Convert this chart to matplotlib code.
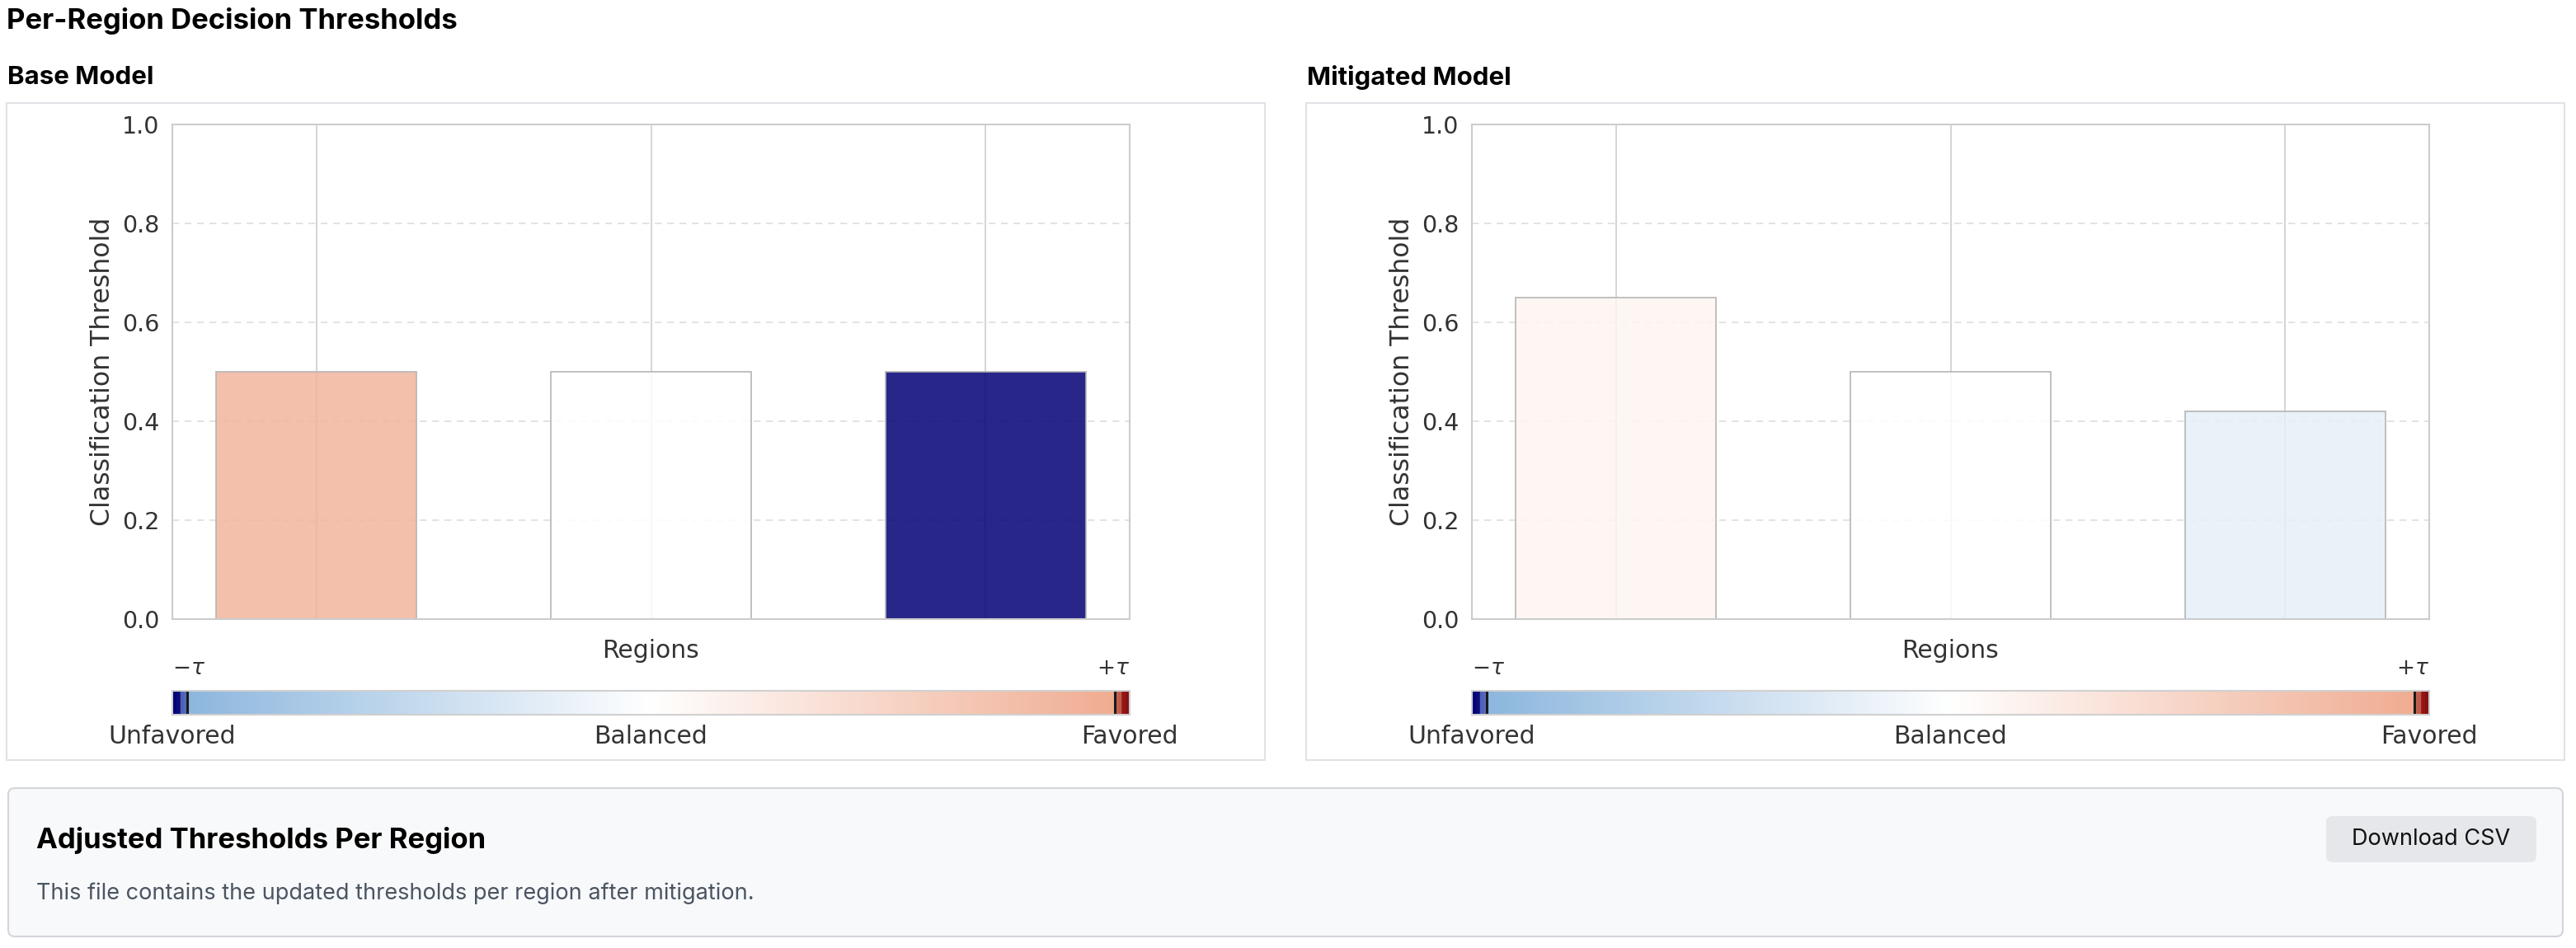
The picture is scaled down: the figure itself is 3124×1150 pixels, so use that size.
import matplotlib
matplotlib.use("Agg")
import numpy as np
import matplotlib.pyplot as plt
from matplotlib.colors import LinearSegmentedColormap, Normalize
from matplotlib.patches import FancyBboxPatch, Rectangle

# canvas in pixels
W, H = 3124, 1150
DPI = 100

# ─── data ─────────────────────────────────────────────────────────────────────
REGIONS = ["Region 1", "Region 2", "Region 3"]
BASE_THRESHOLDS = [0.5, 0.5, 0.5]
MITIGATED_THRESHOLDS = [0.65, 0.5, 0.42]
# disparity score per region, drives the bar colour
BASE_DISPARITY = [0.09, 0.0, -0.30]
MITIGATED_DISPARITY = [0.012, 0.0, -0.022]
TAU = 0.10
CBAR_LIMIT = 0.1032
Y_TICKS = [0.0, 0.2, 0.4, 0.6, 0.8, 1.0]
CBAR_LABELS = ["Unfavored", "Balanced", "Favored"]
# ──────────────────────────────────────────────────────────────────────────────

UI_FONT = ["Inter", "DejaVu Sans"]
TXT = "#333333"

p_lo = (CBAR_LIMIT - TAU) / (2 * CBAR_LIMIT)
p_hi = 1 - p_lo
cmap = LinearSegmentedColormap.from_list("disparity", [
    (0.0, "#030076"), (0.28 * p_lo, "#0a0d7c"), (0.33 * p_lo, "#4a5cb5"),
    (p_lo, "#5a74c0"), (p_lo, "#8db7de"), (0.5, "#ffffff"),
    (p_hi, "#f0ad92"), (p_hi, "#c8705e"), (1 - 0.50 * p_lo, "#c05a4c"),
    (1 - 0.45 * p_lo, "#9b1c1c"), (1.0, "#8a1010"),
])
norm = Normalize(-CBAR_LIMIT, CBAR_LIMIT)


def bar_color(d):
    return cmap(norm(np.clip(d, -CBAR_LIMIT, CBAR_LIMIT)))


def box(x0, y0, x1, y1):
    """pixel box (top-left origin) -> figure fraction rect"""
    return [x0 / W, 1 - y1 / H, (x1 - x0) / W, (y1 - y0) / H]


def fx(px):
    return px / W


def fy(py):
    return 1 - py / H


fig = plt.figure(figsize=(W / DPI, H / DPI), dpi=DPI)
fig.patch.set_facecolor("white")

fig.text(fx(8), fy(26), "Per-Region Decision Thresholds", fontsize=25, fontweight="bold",
         family=UI_FONT, color="#000000", va="center", ha="left")


def panel(x_off, title, values, disparity):
    # card outline (behind the axes)
    fig.patches.append(Rectangle((x_off / DPI, (H - 922) / DPI), 1526 / DPI, 797 / DPI,
                                 transform=fig.dpi_scale_trans, facecolor="white",
                                 edgecolor="#e1e2e7", lw=1.5, zorder=-5))
    fig.text(fx(x_off + 1), fy(94), title, fontsize=22.5, fontweight="bold",
             family=UI_FONT, color="#000000", va="center", ha="left")

    ax = fig.add_axes(box(x_off + 201, 151, x_off + 1362, 751))
    x = np.arange(len(values))
    ax.bar(x, values, width=0.6, color=[bar_color(d) for d in disparity], alpha=0.85,
           edgecolor="#b5b5b5", linewidth=1.4, zorder=2)
    ax.set_ylim(0, 1.0)
    ax.set_yticks(Y_TICKS)
    ax.set_xticks(x)
    ax.set_xticklabels([])
    ax.set_axisbelow(True)
    ax.grid(axis="x", color="#d4d4d4", linewidth=1.4, linestyle="-")
    ax.grid(axis="y", color="#dedede", linewidth=1.2, linestyle=(0, (5, 4)))
    ax.tick_params(axis="both", length=0, labelsize=20.5, labelcolor=TXT, pad=11)
    for s in ax.spines.values():
        s.set_color("#cccccc")
        s.set_linewidth(1.5)
    ax.set_ylabel("Classification Threshold", fontsize=22.7, color=TXT, labelpad=6)
    ax.set_xlabel("Regions", fontsize=21.5, color=TXT, labelpad=6)

    # disparity colour scale under the bars
    cax = fig.add_axes(box(x_off + 201, 838, x_off + 1362, 867))
    grad = np.linspace(-CBAR_LIMIT, CBAR_LIMIT, 1200).reshape(1, -1)
    cax.imshow(grad, cmap=cmap, norm=norm, aspect="auto",
               extent=[-CBAR_LIMIT, CBAR_LIMIT, 0, 1])
    cax.axvline(-TAU, color="#1a1a1a", linewidth=2.2)
    cax.axvline(TAU, color="#1a1a1a", linewidth=2.2)
    cax.set_xlim(-CBAR_LIMIT, CBAR_LIMIT)
    cax.set_xticks([])
    cax.set_yticks([])
    for s in cax.spines.values():
        s.set_color("#d0d0d0")
        s.set_linewidth(1.5)

    fig.text(fx(x_off + 201), fy(811), r"$-\tau$", fontsize=19, color=TXT,
             ha="left", va="center")
    fig.text(fx(x_off + 1362), fy(811), r"$+\tau$", fontsize=19, color=TXT,
             ha="right", va="center")
    for px, lab in zip([201, 781.5, 1362], CBAR_LABELS):
        fig.text(fx(x_off + px), fy(893), lab, fontsize=21.5, color=TXT,
                 ha="center", va="center")


panel(8, "Base Model", BASE_THRESHOLDS, BASE_DISPARITY)
panel(1584, "Mitigated Model", MITIGATED_THRESHOLDS, MITIGATED_DISPARITY)

# download card at the bottom
fig.patches.append(FancyBboxPatch((10 / DPI, (H - 1136) / DPI), 3098 / DPI, 180 / DPI,
                                  boxstyle="round,pad=0,rounding_size=0.08",
                                  transform=fig.dpi_scale_trans, facecolor="#f8f9fa",
                                  edgecolor="#d3d5db", lw=1.5, zorder=-5))
fig.text(fx(44), fy(1019), "Adjusted Thresholds Per Region", fontsize=25, fontweight="bold",
         family=UI_FONT, color="#000000", va="center", ha="left")
fig.text(fx(44), fy(1084), "This file contains the updated thresholds per region after mitigation.",
         fontsize=19.5, family=UI_FONT, color="#4b5563", va="center", ha="left")
fig.patches.append(FancyBboxPatch((2821 / DPI, (H - 1046) / DPI), 255 / DPI, 56 / DPI,
                                  boxstyle="round,pad=0,rounding_size=0.08",
                                  transform=fig.dpi_scale_trans, facecolor="#e5e7eb",
                                  edgecolor="none", zorder=-4))
fig.text(fx(2948), fy(1018), "Download CSV", fontsize=19.5, family=UI_FONT,
         color="#111111", va="center", ha="center")

fig.savefig("out.png", dpi=DPI, facecolor="white")
